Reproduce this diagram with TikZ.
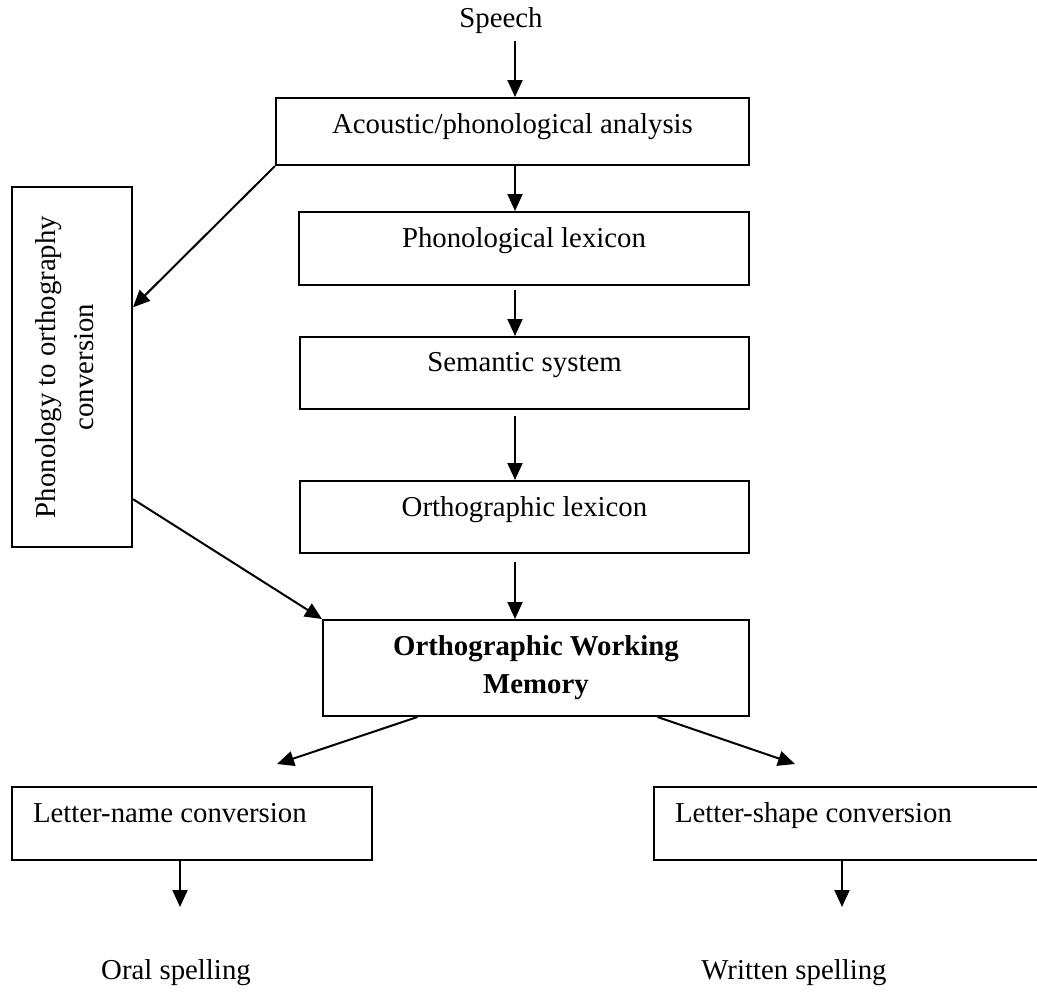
\documentclass[tikz,border=0pt]{standalone}
\usepackage{fontspec}
\setmainfont{Liberation Serif}
\usetikzlibrary{arrows.meta,calc}

\begin{document}
\begin{tikzpicture}[x=0.5pt, y=-0.5pt, line width=1pt,
  font=\fontsize{14.4}{19}\selectfont,
  box/.style={draw, rectangle, inner sep=0pt, align=center},
  lift/.style={text depth=11pt},
  arr/.style={-{Triangle[length=8.5pt,width=7.5pt]}}]

  \useasboundingbox (0,0) rectangle (1037,992);

  \node[inner sep=3pt] (speech) at (501,21) {Speech};
  \coordinate (spine) at (515,0);

  \node[box, text depth=7.5pt, minimum width=236.5pt, minimum height=33.5pt] (acoustic) at (512.5,131.5) {Acoustic/phonological analysis};
  \node[box, lift, minimum width=225pt, minimum height=36.5pt] (phonlex) at (524,248.5) {Phonological lexicon};
  \node[box, lift, minimum width=224.5pt, minimum height=36pt] (semantic) at (524.5,373) {Semantic system};
  \node[box, lift, minimum width=224.5pt, minimum height=36pt] (ortholex) at (524.5,517) {Orthographic lexicon};
  \node[box, font=\fontsize{14.4}{19}\selectfont\bfseries, minimum width=213pt, minimum height=48pt] (owm) at (536,668) {Orthographic Working\\Memory};

  \node[box, rotate=90, text depth=7pt, minimum width=180pt, minimum height=60pt] (p2o) at (72,367) {Phonology to orthography\\conversion};

  \node[box, lift, minimum width=180pt, minimum height=36.5pt] (lname) at (192,823.5) {\makebox[159pt][l]{Letter-name conversion}};
  \node[box, lift, minimum width=195.5pt, minimum height=36.5pt] (lshape) at (849.5,823.5) {\makebox[174.5pt][l]{Letter-shape conversion}};

  \node (oral) at (176,973) {Oral spelling};
  \node (written) at (794,973) {Written spelling};

  \coordinate (lnamein) at (277,764);
  \coordinate (lshapein) at (795,764);
  \coordinate (oralin) at (180,907);
  \coordinate (writtenin) at (842,907);

  \draw[arr] (speech.south -| spine) -- (acoustic.north -| spine);
  \draw[arr] (acoustic.south -| spine) -- (phonlex.north -| spine);
  \draw[arr, shorten <=2pt] (phonlex.south -| spine) -- (semantic.north -| spine);
  \draw[arr, shorten <=3pt] (semantic.south -| spine) -- (ortholex.north -| spine);
  \draw[arr, shorten <=4pt] (ortholex.south -| spine) -- (owm.north -| spine);

  \draw[arr] (acoustic.south west) -- ($(p2o.south)!0.33!(p2o.south east)$);
  \draw[arr] ($(p2o.south)!0.73!(p2o.south west)$) -- (owm.north west);

  \draw[arr] ($(owm.south)!0.554!(owm.south west)$) -- (lnamein);
  \draw[arr] ($(owm.south)!0.568!(owm.south east)$) -- (lshapein);

  \draw[arr] (lname.south -| oralin) -- (oralin);
  \draw[arr] (lshape.south -| writtenin) -- (writtenin);

\end{tikzpicture}
\end{document}
